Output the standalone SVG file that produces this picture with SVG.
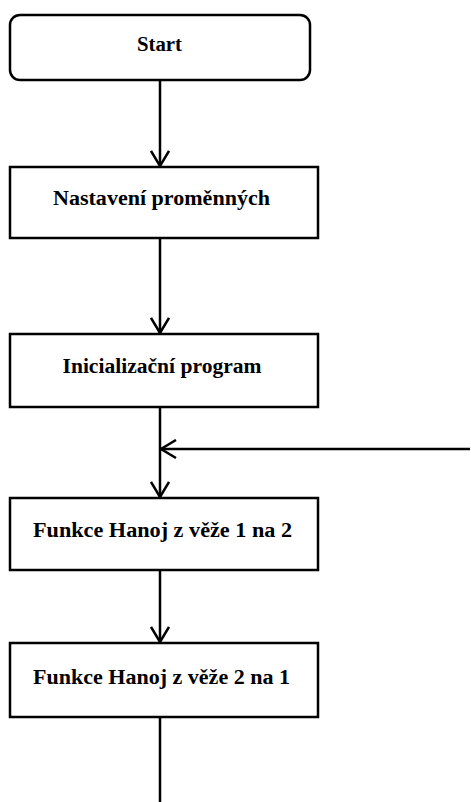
<svg xmlns="http://www.w3.org/2000/svg" width="471" height="802" viewBox="0 0 471 802">
<style>
.box{fill:#fff;stroke:#000;stroke-width:2.5}
.lbl{font-family:'Liberation Serif','Times New Roman',Times,serif;font-weight:bold;font-size:20.5px;fill:#000;text-anchor:middle}
.ln{fill:none;stroke:#000;stroke-width:2.5}
</style>
<defs>
<marker id="arr" viewBox="0 0 20 20" refX="18" refY="10" markerWidth="20" markerHeight="20" markerUnits="userSpaceOnUse" orient="auto">
<path d="M3,1 L18,10 L3,19" fill="none" stroke="#000" stroke-width="2.5"/>
</marker>
</defs>
<rect width="471" height="802" fill="#fff"/>
<g id="connectors">
<line class="ln" x1="160" y1="80" x2="160" y2="166" marker-end="url(#arr)"/>
<line class="ln" x1="160" y1="238" x2="160" y2="333" marker-end="url(#arr)"/>
<line class="ln" x1="160" y1="407" x2="160" y2="497" marker-end="url(#arr)"/>
<line class="ln" x1="470" y1="449" x2="161" y2="449" marker-end="url(#arr)"/>
<line class="ln" x1="160" y1="570" x2="160" y2="642" marker-end="url(#arr)"/>
<line class="ln" x1="160" y1="717" x2="160" y2="802"/>
</g>
<g id="start">
<rect class="box" x="10" y="15" width="300" height="65" rx="10"/>
<text class="lbl" x="159.5" y="51" textLength="45" lengthAdjust="spacingAndGlyphs">Start</text>
</g>
<g id="nastaveni">
<rect class="box" x="10" y="167" width="308" height="71"/>
<text class="lbl" x="161.5" y="205" textLength="217" lengthAdjust="spacingAndGlyphs">Nastavení proměnných</text>
</g>
<g id="inicializace">
<rect class="box" x="10" y="334" width="308" height="73"/>
<text class="lbl" x="162" y="373" textLength="199" lengthAdjust="spacingAndGlyphs">Inicializační program</text>
</g>
<g id="hanoj12">
<rect class="box" x="10" y="498" width="308" height="72"/>
<text class="lbl" x="162.5" y="537" textLength="259" lengthAdjust="spacingAndGlyphs">Funkce Hanoj z věže 1 na 2</text>
</g>
<g id="hanoj21">
<rect class="box" x="10" y="643" width="308" height="74"/>
<text class="lbl" x="161.5" y="684" textLength="257" lengthAdjust="spacingAndGlyphs">Funkce Hanoj z věže 2 na 1</text>
</g>
</svg>
